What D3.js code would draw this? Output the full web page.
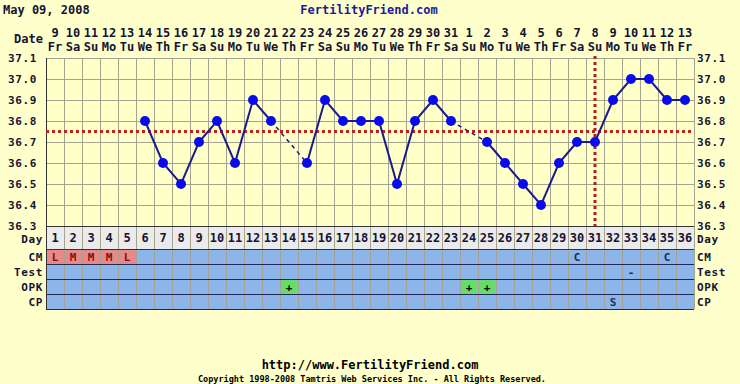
<!DOCTYPE html>
<html><head><meta charset="utf-8">
<script src="https://cdn.jsdelivr.net/npm/d3@7"></script>
<style>
html,body{margin:0;padding:0;background:#FFFFCC;}
svg{display:block;}
text{font-family:"DejaVu Sans Mono",monospace;font-weight:bold;}
</style></head>
<body><svg id="c" width="740" height="384"></svg>
<script>
const days = d3.range(1, 37);
const dateNums = [9,10,11,12,13,14,15,16,17,18,19,20,21,22,23,24,25,26,27,28,29,30,31,1,2,3,4,5,6,7,8,9,10,11,12,13];
const dayNames = ["Fr","Sa","Su","Mo","Tu","We","Th","Fr","Sa","Su","Mo","Tu","We","Th","Fr","Sa","Su","Mo","Tu","We","Th","Fr","Sa","Su","Mo","Tu","We","Th","Fr","Sa","Su","Mo","Tu","We","Th","Fr"];
const temps = [null,null,null,null,null,36.8,36.6,36.5,36.7,36.8,36.6,36.9,36.8,null,36.6,36.9,36.8,36.8,36.8,36.5,36.8,36.9,36.8,null,36.7,36.6,36.5,36.4,36.6,36.7,36.7,36.9,37.0,37.0,36.9,36.9];
const yTicks = [37.1,37.0,36.9,36.8,36.7,36.6,36.5,36.4,36.3];
const coverline = 36.75;
const ovulationDay = 31;
const rowLabels = ["CM","Test","OPK","CP"];
const cmVals = {1:"L",2:"M",3:"M",4:"M",5:"L",30:"C",35:"C"};
const testVals = {33:"-"};
const opkVals = {14:"+",24:"+",25:"+"};
const cpVals = {32:"S"};
const titleText = "FertilityFriend.com";
const dateText = "May 09, 2008";

const svg = d3.select("#c");
const L = 46, R = 694, T = 58, B = 226;
const x = d3.scaleBand().domain(days).range([L, R]).padding(0);
const y = d3.scaleLinear().domain([36.3, 37.1]).range([B, T]);
const cx = d => x(d) + x.bandwidth()/2;
const ink = "#141432";
const gridC = "#a3a38f";
const lab = (sel) => sel.attr("font-size",11).attr("letter-spacing",0.6).attr("fill",ink);

// header
svg.append("text").attr("x",3).attr("y",14).attr("font-size",12).attr("fill",ink).text(dateText);
svg.append("text").attr("x",369).attr("y",14).attr("font-size",12).attr("fill","#1a1a99").attr("text-anchor","middle").text(titleText);
svg.append("text").attr("x",43).attr("y",43).attr("font-size",12).attr("fill",ink).attr("text-anchor","end").text("Date");
svg.selectAll(".dn").data(days).enter().append("text")
  .attr("x",d=>cx(d)).attr("y",37).attr("font-size",12).attr("fill",ink).attr("text-anchor","middle")
  .text(d=>dateNums[d-1]);
svg.selectAll(".dw").data(days).enter().append("text")
  .attr("x",d=>cx(d)).attr("y",51).attr("font-size",12).attr("fill",ink).attr("text-anchor","middle")
  .text(d=>dayNames[d-1]);

// plot bg
svg.append("rect").attr("x",L).attr("y",T).attr("width",R-L).attr("height",B-T).attr("fill","#FFFFC8");

// rows
const rowTop = B, dayH = 23, rowH = 15;
svg.append("rect").attr("x",L).attr("y",rowTop).attr("width",R-L).attr("height",dayH).attr("fill","#EBEBEB");
const r0 = rowTop + dayH;
svg.append("rect").attr("x",L).attr("y",r0).attr("width",R-L).attr("height",rowH*4).attr("fill","#8CB6EA");
// CM pink cells
Object.keys(cmVals).map(Number).filter(d=>["L","M","H"].includes(cmVals[d])).forEach(d=>{
  svg.append("rect").attr("x",x(d)+1).attr("y",r0+1).attr("width",x.bandwidth()-1).attr("height",rowH-1).attr("fill","#E88888");
});
// OPK green
Object.keys(opkVals).map(Number).forEach(d=>{
  svg.append("rect").attr("x",x(d)+1).attr("y",r0+rowH*2+1).attr("width",x.bandwidth()-2).attr("height",rowH-2).attr("rx",3).attr("fill","#66DD66");
});

// gridlines horizontal
svg.selectAll(".hg").data(yTicks.slice(0,-1)).enter().append("line")
  .attr("x1",L).attr("x2",R).attr("y1",d=>Math.round(y(d))+0.5).attr("y2",d=>Math.round(y(d))+0.5)
  .attr("stroke",gridC).attr("stroke-width",1);
// vertical grid
const bounds = days.map(d=>x(d)).concat([R]);
svg.selectAll(".vg").data(bounds.slice(1)).enter().append("line")
  .attr("x1",d=>d+0.5).attr("x2",d=>d+0.5).attr("y1",T).attr("y2",r0+rowH*4)
  .attr("stroke",gridC).attr("stroke-width",1);
// row lines
[B, r0].forEach(v=>svg.append("line").attr("x1",L).attr("x2",R).attr("y1",v+0.5).attr("y2",v+0.5).attr("stroke","#333").attr("stroke-width",1));
[1,2,3,4].forEach(i=>svg.append("line").attr("x1",L).attr("x2",R).attr("y1",r0+rowH*i+0.5).attr("y2",r0+rowH*i+0.5).attr("stroke","#1e2a55").attr("stroke-width",1));
svg.append("line").attr("x1",L+0.5).attr("x2",L+0.5).attr("y1",T).attr("y2",r0+rowH*4).attr("stroke","#333");

// y labels
svg.selectAll(".yl").data(yTicks).enter().append("text")
  .call(lab).attr("x",37).attr("y",d=>y(d)+3.5).attr("text-anchor","end").text(d=>d.toFixed(1));
svg.selectAll(".yr").data(yTicks).enter().append("text")
  .call(lab).attr("x",697).attr("y",d=>y(d)+3.5).text(d=>d.toFixed(1));

// day row text
svg.selectAll(".dr").data(days).enter().append("text")
  .attr("x",d=>cx(d)).attr("y",rowTop+16).attr("font-size",12).attr("fill",ink).attr("text-anchor","middle").text(d=>d);
svg.append("text").call(lab).attr("x",43).attr("y",rowTop+16.5).attr("text-anchor","end").text("Day");
svg.append("text").call(lab).attr("x",697).attr("y",rowTop+16.5).text("Day");
rowLabels.forEach((lb,i)=>{
  const yy = r0 + rowH*i + 11.5;
  svg.append("text").call(lab).attr("x",43).attr("y",yy).attr("text-anchor","end").text(lb);
  svg.append("text").call(lab).attr("x",697).attr("y",yy).text(lb);
});
[cmVals,testVals,opkVals,cpVals].forEach((vals,i)=>{
  Object.keys(vals).map(Number).forEach(d=>{
    const v = vals[d];
    const pink = i===0 && ["L","M","H"].includes(v);
    svg.append("text").attr("x",cx(d)).attr("y",r0+rowH*i+11.5).attr("font-size",11)
      .attr("text-anchor","middle").attr("fill", pink ? "#7a1010" : (i===2 ? "#000" : "#1e2a55")).text(v);
  });
});

// coverline and ovulation line
svg.append("line").attr("x1",L).attr("x2",R).attr("y1",y(coverline)).attr("y2",y(coverline))
  .attr("stroke","#C02020").attr("stroke-width",3).attr("stroke-dasharray","3,3");
svg.append("line").attr("x1",cx(ovulationDay)).attr("x2",cx(ovulationDay)).attr("y1",T-2).attr("y2",B)
  .attr("stroke","#B02020").attr("stroke-width",3).attr("stroke-dasharray","3,3");

// temperature line
const pts = days.map(d=>({d, t: temps[d-1]}));
const line = d3.line().defined(p=>p.t!==null).x(p=>cx(p.d)).y(p=>y(p.t));
svg.append("path").attr("d",line(pts)).attr("fill","none").attr("stroke","#1a1a8c").attr("stroke-width",2);
// dashed gap segments
const known = pts.filter(p=>p.t!==null);
for (let i=1;i<known.length;i++){
  if (known[i].d - known[i-1].d > 1){
    svg.append("line").attr("x1",cx(known[i-1].d)).attr("y1",y(known[i-1].t))
      .attr("x2",cx(known[i].d)).attr("y2",y(known[i].t))
      .attr("stroke","#1a1a8c").attr("stroke-width",1.5).attr("stroke-dasharray","4,4");
  }
}
svg.selectAll(".pt").data(known).enter().append("circle")
  .attr("cx",p=>cx(p.d)).attr("cy",p=>y(p.t)).attr("r",5).attr("fill","#0a0aee");

// footer
svg.append("text").attr("x",370).attr("y",369).attr("font-size",12).attr("fill","#000").attr("text-anchor","middle").text("http://www.FertilityFriend.com");
svg.append("text").attr("x",372).attr("y",382).attr("font-size",8.5).attr("fill","#000").attr("text-anchor","middle").attr("font-weight","normal").text("Copyright 1998-2008 Tamtris Web Services Inc. - All Rights Reserved.");
</script></body></html>
